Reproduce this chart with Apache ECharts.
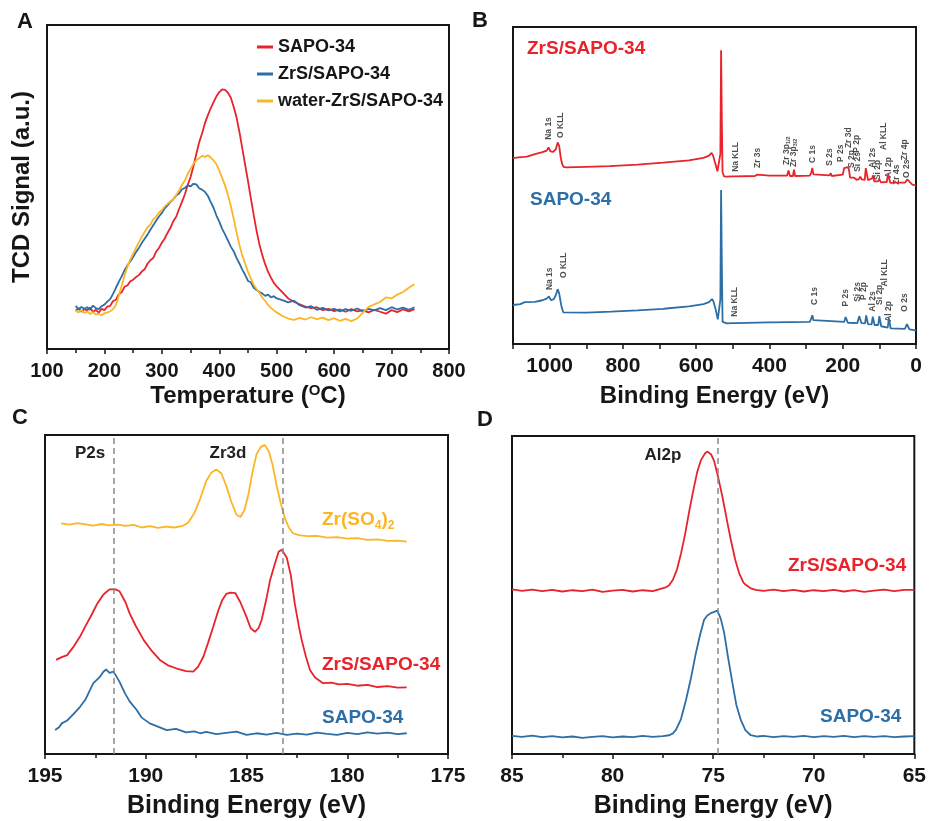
<!DOCTYPE html>
<html>
<head>
<meta charset="utf-8">
<script src="https://cdn.jsdelivr.net/npm/echarts@6/dist/echarts.min.js"></script>
<style>
  html, body { margin: 0; padding: 0; background: #fff; }
  #chart { width: 929px; height: 821px; }
</style>
</head>
<body>
<div id="chart"></div>
<script>
// ---- A: NH3-TPD, [temperature, signal] ----
const tpdSapo = [[150,11.8],[155,12.6],[160,11.5],[165,12.3],[170,11.9],[175,12.8],[180,11.4],[185,12.1],[190,11.2],[195,12.4],
  [200,12.0],[205,13.1],[210,13.3],[215,14.8],[220,15.2],[225,16.9],[230,17.5],[235,19.2],[240,19.6],[245,20.9],
  [250,21.4],[255,22.2],[260,22.8],[265,23.9],[270,24.6],[275,26.3],[280,27.4],[285,28.1],[290,30.0],[295,31.2],
  [300,32.8],[305,34.1],[310,35.9],[315,37.4],[320,39.5],[325,40.8],[330,43.2],[335,45.4],[340,47.7],[345,50.6],
  [350,53.1],[355,56.4],[360,60.2],[365,63.8],[370,66.5],[375,69.7],[380,72.1],[385,74.3],[390,76.2],[395,78.0],
  [400,79.3],[405,80.1],[410,80.0],[415,79.1],[420,77.6],[425,74.8],[430,71.5],[435,67.1],[440,62.0],[445,56.9],
  [450,51.8],[455,46.5],[460,41.3],[465,36.4],[470,32.2],[475,28.9],[480,26.1],[485,23.8],[490,22.0],[495,20.4],
  [500,19.3],[510,17.5],[520,15.6],[530,14.6],[540,13.8],[550,13.1],[560,12.6],[570,12.9],[580,12.0],[590,12.4],
  [600,11.7],[610,12.2],[620,11.5],[630,12.3],[640,11.6],[650,11.9],[660,11.3],[670,12.1],[680,11.5],[690,10.9],
  [700,12.0],[710,11.4],[720,12.2],[730,11.6],[740,12.3]];
const tpdZrs = [[150,13.3],[155,12.2],[160,13.0],[165,12.4],[170,12.9],[175,12.1],[180,13.4],[185,12.6],[190,12.3],[195,13.2],
  [200,13.7],[205,14.6],[210,15.4],[215,17.0],[220,18.9],[225,20.7],[230,22.4],[235,24.3],[240,25.8],[245,27.0],
  [250,28.4],[255,29.9],[260,31.2],[265,32.7],[270,34.0],[275,35.3],[280,36.8],[285,38.2],[290,39.6],[295,40.9],
  [300,42.0],[305,43.4],[310,44.3],[315,45.4],[320,46.2],[325,47.4],[330,48.0],[335,49.3],[340,49.7],[345,50.5],
  [350,50.2],[355,51.0],[360,50.8],[365,49.6],[370,49.2],[375,48.5],[380,47.3],[385,45.4],[390,43.6],[395,41.2],
  [400,39.3],[405,37.1],[410,35.4],[415,33.5],[420,31.6],[425,30.2],[430,28.1],[435,26.4],[440,24.5],[445,22.9],
  [450,21.0],[455,20.6],[460,18.9],[465,18.2],[470,17.6],[475,17.1],[480,16.4],[485,16.8],[490,15.9],[495,16.3],
  [500,15.6],[510,15.1],[520,14.4],[530,14.9],[540,13.5],[550,12.8],[560,13.2],[570,12.1],[580,12.7],[590,11.9],
  [600,12.4],[610,11.6],[620,12.3],[630,11.8],[640,12.5],[650,11.7],[660,12.4],[670,11.9],[680,12.6],[690,12.0],
  [700,12.9],[710,12.2],[720,12.8],[730,12.1],[740,12.9]];
const tpdWater = [[150,11.8],[155,11.3],[160,12.0],[165,11.1],[170,11.6],[175,10.8],[180,11.4],[185,10.6],[190,10.9],[195,10.4],
  [200,11.0],[205,11.3],[210,11.6],[215,12.3],[220,13.6],[225,16.4],[230,19.5],[235,22.6],[240,25.4],[245,27.6],
  [250,29.4],[255,31.2],[260,33.0],[265,34.6],[270,36.1],[275,37.5],[280,38.4],[285,40.0],[290,40.8],[295,42.1],
  [300,42.9],[305,44.0],[310,44.8],[315,45.6],[320,46.2],[325,47.5],[330,49.0],[335,50.6],[340,52.0],[345,54.0],
  [350,55.6],[355,57.2],[360,58.3],[365,58.9],[370,59.6],[375,59.3],[380,59.8],[385,59.1],[390,58.2],[395,57.0],
  [400,55.1],[405,52.8],[410,50.5],[415,47.6],[420,44.2],[425,40.3],[430,36.0],[435,32.2],[440,28.9],[445,26.4],
  [450,23.8],[455,21.7],[460,19.8],[465,18.5],[470,17.3],[475,15.9],[480,14.8],[485,13.6],[490,12.7],[495,11.9],
  [500,11.3],[510,10.2],[520,9.4],[530,9.0],[540,9.6],[550,9.1],[560,9.8],[570,9.2],[580,9.7],[590,8.9],
  [600,9.5],[610,8.7],[620,9.3],[630,8.6],[640,9.4],[650,11.2],[660,13.0],[670,13.8],[680,14.5],[690,15.9],
  [700,15.6],[710,16.8],[720,17.6],[730,18.9],[740,20.0]];
const tpdNames = ['SAPO-34', 'ZrS/SAPO-34', 'water-ZrS/SAPO-34'];

// ---- B: XPS survey, [binding energy, counts] ----
const surveyZrs = [[1100,58.6],[1085,58.9],[1070,59.0],[1066,59.6],[1062,59.1],[1040,59.9],[1020,60.5],[1008,61.0],[1003,62.0],[998,60.8],
  [990,60.6],[983,61.5],[978,63.6],[974,62.5],[970,59.0],[966,56.8],[962,55.9],[955,55.7],[900,55.9],[836,56.1],
  [760,56.6],[690,57.2],[686,57.8],[682,57.3],[620,57.9],[580,58.7],[565,59.4],[558,60.3],[554,59.5],[548,57.0],
  [542,54.5],[537,54.0],[534,60.0],[532,92.7],[530,70.0],[528,54.2],[524,52.9],[518,52.8],[500,52.9],[497,53.3],
  [494,52.9],[440,53.0],[434,53.4],[430,53.0],[400,53.1],[352,53.1],[348,54.7],[344,53.0],[336,53.0],[333,55.0],
  [330,53.0],[290,53.1],[286,54.0],[283,55.5],[280,53.5],[276,53.0],[236,53.2],[233,53.9],[230,53.0],[200,53.4],
  [196,55.5],[192,55.2],[186,55.8],[183,55.1],[180,52.5],[176,52.0],[170,52.5],[166,53.1],[162,51.8],[156,52.0],
  [152,52.8],[148,51.9],[140,51.8],[137,55.5],[134,55.3],[131,51.7],[126,51.5],[120,52.2],[117,53.2],[114,51.3],
  [104,51.3],[100,52.0],[96,51.0],[80,51.1],[76,53.5],[73,52.9],[70,50.8],[55,50.9],[50,51.4],[45,50.9],
  [30,50.9],[24,51.9],[20,51.3],[10,50.3],[0,50.0]];
const surveySapo = [[1100,12.3],[1080,12.6],[1068,13.2],[1064,12.7],[1040,13.3],[1020,13.8],[1008,14.3],[1002,15.0],[996,13.8],[988,14.2],
  [983,15.5],[978,17.3],[974,16.0],[968,12.0],[963,10.0],[958,9.7],[900,9.9],[832,10.2],[760,10.6],[690,11.1],
  [686,11.7],[682,11.2],[620,11.9],[580,12.6],[565,13.2],[557,14.2],[553,13.5],[547,11.0],[541,7.8],[537,7.2],
  [534,14.0],[532,48.6],[530,25.0],[528,7.0],[524,6.4],[516,6.5],[500,6.6],[497,7.0],[494,6.6],[402,6.8],
  [399,7.3],[396,6.8],[290,7.0],[286,8.0],[283,9.1],[280,7.5],[276,6.9],[196,7.0],[192,8.5],[189,8.9],
  [186,6.7],[160,6.6],[155,8.8],[152,9.2],[149,6.6],[139,6.5],[136,9.0],[134,9.2],[131,6.3],[121,6.2],
  [118,8.6],[116,8.8],[113,6.0],[103,6.0],[100,8.8],[98,8.9],[95,5.6],[77,5.2],[74,8.1],[72,7.9],
  [69,4.9],[30,4.8],[25,6.3],[22,5.6],[18,4.6],[5,4.4],[0,4.2]];
const surveyZrsPeaks = [[1002,64.4,'Na 1s'],[969,65,'O KLL'],[491,54.3,'Na KLL'],[431,55.5,'Zr 3s'],[352,56.5,'Zr 3p{s|1/2}'],
  [333,55.8,'Zr 3p{s|3/2}'],[281,57.1,'C 1s'],[237,56.2,'S 2s'],[207,57.4,'P 2s'],[183,61.8,'Zr 3d'],[175,55.5,'S 2p'],
  [161,60.3,'P 2p'],[158,54.3,'Si 2s'],[117,55.5,'Al 2s'],[104,51.7,'Si 2p'],[87,61.2,'Al KLL'],[76,52.4,'Al 2p'],
  [52,50.2,'Zr 4s'],[30,58,'Zr 4p'],[25,52.4,'O 2s']];
const surveySapoPeaks = [[999,17,'Na 1s'],[963,20.8,'O KLL'],[494,8.6,'Na KLL'],[276,12.3,'C 1s'],[191,11.8,'P 2s'],
  [160,13.3,'Si 2s'],[142,13.9,'P 2p'],[117,10.2,'Al 2s'],[98,12.3,'Si 2p'],[85,18.1,'Al KLL'],[76,7,'Al 2p'],[30,10.2,'O 2s']];

// ---- C: P2s / Zr3d region ----
const zr3dSulfate = [[194.2,72.3],[193.8,71.9],[193.4,72.4],[193.0,72.0],[192.6,71.6],[192.2,72.1],[191.8,71.7],[191.4,71.9],[191.0,71.5],[190.6,71.8],
  [190.2,71.0],[189.8,71.4],[189.4,70.9],[189.0,71.3],[188.6,71.0],[188.2,71.4],[187.9,72.5],[187.6,75.4],[187.3,80.0],[187.0,85.6],
  [186.75,88.2],[186.5,89.2],[186.25,88.0],[186.0,84.0],[185.75,79.0],[185.5,75.0],[185.3,74.3],[185.1,76.5],[184.9,81.5],[184.7,88.5],
  [184.5,94.0],[184.3,96.2],[184.1,96.9],[183.9,95.0],[183.7,90.5],[183.5,84.0],[183.3,78.6],[183.1,74.0],[182.9,71.0],[182.7,69.2],
  [182.4,68.6],[182.0,68.3],[181.5,68.4],[181.0,67.8],[180.5,68.0],[180.0,67.5],[179.5,67.7],[179.0,67.1],[178.5,67.3],[178.0,66.8],
  [177.5,66.9],[177.05,66.6]];
const zr3dZrs = [[194.45,29.5],[194.2,30.3],[193.9,31.0],[193.6,33.5],[193.26,36.8],[193.0,40.0],[192.7,43.5],[192.4,47.2],[192.1,50.0],[191.8,51.6],
  [191.5,51.6],[191.3,51.0],[191.0,47.5],[190.8,44.1],[190.5,40.2],[190.1,35.7],[189.7,32.3],[189.3,29.5],[188.9,27.8],[188.46,26.8],
  [188.0,26.0],[187.64,25.8],[187.4,27.4],[187.14,30.5],[186.9,35.0],[186.65,39.9],[186.4,45.0],[186.2,48.3],[186.0,50.2],[185.8,50.6],
  [185.55,50.4],[185.3,47.5],[185.0,43.0],[184.8,39.5],[184.58,38.3],[184.4,39.5],[184.25,42.0],[184.0,49.0],[183.83,54.5],[183.6,59.5],
  [183.4,63.5],[183.25,64.0],[183.0,61.5],[182.8,56.0],[182.6,47.0],[182.4,40.0],[182.26,35.7],[182.05,30.5],[181.85,26.3],[181.6,24.0],
  [181.2,22.2],[180.8,22.4],[180.4,21.8],[180.0,22.0],[179.5,21.4],[179.0,21.7],[178.5,21.0],[178.0,21.3],[177.5,20.8],[177.05,20.9]];
const zr3dSapo = [[194.5,7.5],[194.3,8.4],[194.17,9.6],[193.9,10.5],[193.6,12.4],[193.26,14.8],[193.0,17.0],[192.8,19.6],[192.6,22.2],[192.3,24.0],
  [192.1,25.8],[191.97,26.5],[191.8,25.4],[191.6,25.8],[191.5,24.8],[191.3,22.6],[191.03,19.0],[190.8,16.5],[190.45,13.8],[190.2,11.4],
  [189.8,9.6],[189.4,8.6],[188.96,7.5],[188.5,7.9],[188.0,6.8],[187.6,7.1],[187.3,6.5],[187.0,6.9],[186.5,6.2],[186.0,6.6],
  [185.5,7.0],[185.0,6.0],[184.5,6.5],[184.0,6.1],[183.5,6.6],[183.0,6.0],[182.5,6.4],[182.0,6.1],[181.5,6.7],[181.0,6.3],
  [180.5,6.0],[180.0,6.6],[179.5,6.2],[179.0,6.8],[178.5,6.4],[178.0,6.7],[177.5,6.2],[177.05,6.5]];
const zr3dRefLines = [191.6, 183.2];

// ---- D: Al2p region ----
const al2pZrs = [[85,51.8],[84.5,51.3],[84,51.7],[83.5,51.2],[83,51.6],[82.5,51.1],[82,51.5],[81.5,51.2],[81,51.7],[80.5,51.0],
  [80,51.4],[79.5,51.6],[79,51.1],[78.5,51.5],[78,51.2],[77.7,51.8],[77.4,52.3],[77.2,53.0],[77.0,54.8],[76.8,58.0],
  [76.6,63.0],[76.4,69.0],[76.2,76.0],[76.0,82.5],[75.8,88.5],[75.6,92.5],[75.4,94.6],[75.28,95.1],[75.1,94.2],[74.95,92.1],
  [74.75,87.0],[74.54,80.9],[74.3,73.0],[74.12,67.3],[73.9,61.0],[73.71,56.9],[73.5,54.0],[73.38,53.2],[73.1,52.0],[72.88,51.6],
  [72.5,51.3],[72,51.7],[71.5,51.2],[71,51.6],[70.5,51.1],[70,51.5],[69.5,51.2],[69,51.6],[68.5,51.1],[68,51.5],
  [67.5,51.0],[67,51.4],[66.5,51.7],[66,51.2],[65.5,51.6],[65,51.6]];
const al2pSapo = [[85,5.7],[84.5,5.4],[84,5.8],[83.5,5.3],[83,5.6],[82.5,5.2],[82,5.5],[81.5,5.1],[81,5.4],[80.5,5.6],
  [80,5.2],[79.5,5.5],[79,5.3],[78.5,5.7],[78,5.4],[77.5,5.6],[77.18,5.9],[77.0,6.5],[76.85,7.6],[76.6,11.0],
  [76.35,17.0],[76.1,24.0],[75.86,31.7],[75.65,37.5],[75.45,42.2],[75.3,43.5],[75.12,44.3],[74.95,44.7],[74.79,45.1],[74.62,42.5],
  [74.45,38.0],[74.25,30.0],[74.04,22.3],[73.85,15.5],[73.63,10.8],[73.4,7.5],[73.13,5.9],[72.8,5.5],[72.5,5.7],[72,5.3],
  [71.5,5.6],[71,5.4],[70.5,5.7],[70,5.3],[69.5,5.6],[69,5.4],[68.5,5.7],[68,5.3],[67.5,5.6],[67,5.4],
  [66.5,5.6],[66,5.3],[65.5,5.5],[65,5.6]];
const al2pRefLines = [74.75];

const FONT = '"Liberation Sans", Arial, sans-serif';
const RED = '#e8232b', BLUE = '#2c6ea6', GOLD = '#fbb626', INK = '#161616';

const myChart = echarts.init(document.getElementById('chart'), null, { renderer: 'canvas' });

function xAxisOf(gridIndex, min, max, interval, extra) {
  return Object.assign({
    type: 'value', gridIndex, min, max, interval,
    axisLine: { onZero: false, lineStyle: { color: INK, width: 2 } },
    axisTick: { show: true, inside: false, length: 5, lineStyle: { color: INK, width: 1.5 } },
    minorTick: { show: true, splitNumber: 2, length: 4, lineStyle: { color: INK, width: 1.5 } },
    axisLabel: { color: INK, fontSize: 21, fontWeight: 'bold', fontFamily: FONT, margin: 12 },
    splitLine: { show: false },
    nameLocation: 'middle',
    nameTextStyle: { color: INK, fontSize: 25, fontWeight: 'bold', fontFamily: FONT }
  }, extra)
}
function yAxisOf(gridIndex, extra) {
  return Object.assign({
    type: 'value', gridIndex, min: 0, max: 100,
    axisLine: { show: true, onZero: false, lineStyle: { color: INK, width: 2 } },
    axisTick: { show: false },
    axisLabel: { show: false },
    splitLine: { show: false }
  }, extra)
}
function line(name, data, color, axis) {
  return {
    name, type: 'line', data, xAxisIndex: axis, yAxisIndex: axis,
    showSymbol: false, symbol: 'none', silent: true,
    lineStyle: { color, width: 1.8 }, itemStyle: { color }
  }
}
function peakLabels(data, axis) {
  return {
    type: 'scatter', xAxisIndex: axis, yAxisIndex: axis, silent: true,
    symbolSize: 0.1, itemStyle: { color: 'rgba(0,0,0,0)' },
    data,
    label: {
      show: true, position: 'inside', rotate: 90, align: 'left', verticalAlign: 'middle',
      formatter: p => p.data[2],
      fontSize: 8.5, fontWeight: 'bold', fontFamily: FONT, color: '#222',
      rich: { s: { fontSize: 5.5, fontWeight: 'bold', fontFamily: FONT, color: '#222', verticalAlign: 'bottom', lineHeight: 6 } }
    }
  }
}
function refLines(values) {
  return {
    silent: true, symbol: 'none', label: { show: false },
    lineStyle: { type: [6, 4], color: '#8a8a8a', width: 1.5 },
    data: values.map(v => ({ xAxis: v }))
  }
}
function txt(x, y, text, color, size, align, extra) {
  return {
    type: 'text', x, y, silent: true,
    style: Object.assign({
      text, fill: color, font: 'bold ' + size + 'px ' + FONT,
      align: align || 'left', verticalAlign: 'middle'
    }, extra)
  }
}

const gridStyle = { show: true, borderColor: INK, borderWidth: 2, backgroundColor: 'transparent' };

const sapoC = line('C-SAPO', zr3dSapo, BLUE, 2);
sapoC.markLine = refLines(zr3dRefLines);
const sapoD = line('D-SAPO', al2pSapo, BLUE, 3);
sapoD.markLine = refLines(al2pRefLines);

const option = {
  animation: false,
  backgroundColor: '#fff',
  grid: [
    Object.assign({ left: 47, top: 25, width: 402, height: 324 }, gridStyle),
    Object.assign({ left: 513, top: 27, width: 403, height: 317 }, gridStyle),
    Object.assign({ left: 45, top: 435, width: 403, height: 319 }, gridStyle),
    Object.assign({ left: 512, top: 436, width: 404, height: 318 }, gridStyle)
  ],
  xAxis: [
    xAxisOf(0, 100, 800, 100, {
      name: 'Temperature ({sup|O}C)', nameGap: 34,
      axisLabel: { color: INK, fontSize: 20, fontWeight: 'bold', fontFamily: FONT, margin: 12 },
      nameTextStyle: {
        color: INK, fontSize: 24, fontWeight: 'bold', fontFamily: FONT, lineHeight: 26,
        rich: { sup: { color: INK, fontSize: 15, fontWeight: 'bold', fontFamily: FONT, verticalAlign: 'top', lineHeight: 15 } }
      }
    }),
    xAxisOf(1, 0, 1100, 100, {
      inverse: true, name: 'Binding Energy (eV)', nameGap: 40,
      minorTick: { show: false },
      axisLabel: { color: INK, fontSize: 21, fontWeight: 'bold', fontFamily: FONT, margin: 12,
        formatter: v => (v % 200 === 0 ? String(v) : '') },
      nameTextStyle: { color: INK, fontSize: 24, fontWeight: 'bold', fontFamily: FONT }
    }),
    xAxisOf(2, 175, 195, 5, { inverse: true, name: 'Binding Energy (eV)', nameGap: 40 }),
    xAxisOf(3, 65, 85, 5, { inverse: true, name: 'Binding Energy (eV)', nameGap: 40 })
  ],
  yAxis: [
    yAxisOf(0, {
      name: 'TCD Signal (a.u.)', nameLocation: 'middle', nameGap: 13,
      nameTextStyle: { color: INK, fontSize: 24, fontWeight: 'bold', fontFamily: FONT }
    }),
    yAxisOf(1), yAxisOf(2), yAxisOf(3)
  ],
  legend: {
    data: tpdNames, orient: 'vertical', left: 252, top: 33,
    icon: 'rect', itemWidth: 16, itemHeight: 3, itemGap: 9, selectedMode: false,
    textStyle: { color: INK, fontSize: 18, fontWeight: 'bold', fontFamily: FONT, lineHeight: 18 }
  },
  series: [
    line(tpdNames[0], tpdSapo, RED, 0),
    line(tpdNames[1], tpdZrs, BLUE, 0),
    line(tpdNames[2], tpdWater, GOLD, 0),
    line('B-ZrS', surveyZrs, RED, 1),
    line('B-SAPO', surveySapo, BLUE, 1),
    peakLabels(surveyZrsPeaks, 1),
    peakLabels(surveySapoPeaks, 1),
    line('C-ZrSO4', zr3dSulfate, GOLD, 2),
    line('C-ZrS', zr3dZrs, RED, 2),
    sapoC,
    line('D-ZrS', al2pZrs, RED, 3),
    sapoD
  ],
  graphic: [
    txt(25, 22, 'A', INK, 22, 'center'),
    txt(480, 21, 'B', INK, 22, 'center'),
    txt(20, 418, 'C', INK, 22, 'center'),
    txt(485, 420, 'D', INK, 22, 'center'),
    txt(527, 49, 'ZrS/SAPO-34', RED, 19),
    txt(530, 200, 'SAPO-34', BLUE, 19),
    txt(90, 453, 'P2s', '#222', 17, 'center'),
    txt(228, 453, 'Zr3d', '#222', 17, 'center'),
    txt(322, 520, 'Zr(SO{s|4}){s|2}', GOLD, 19, 'left', {
      lineHeight: 24,
      rich: { s: { fontSize: 12, fontWeight: 'bold', fontFamily: FONT, fill: GOLD, verticalAlign: 'bottom', lineHeight: 12 } }
    }),
    txt(322, 665, 'ZrS/SAPO-34', RED, 19),
    txt(322, 718, 'SAPO-34', BLUE, 19),
    txt(663, 455, 'Al2p', '#222', 17, 'center'),
    txt(788, 566, 'ZrS/SAPO-34', RED, 19),
    txt(820, 717, 'SAPO-34', BLUE, 19)
  ]
};

myChart.setOption(option);
</script>
</body>
</html>
